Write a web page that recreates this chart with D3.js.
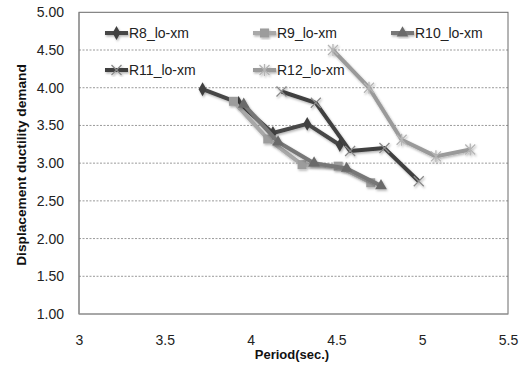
<!DOCTYPE html>
<html><head><meta charset="utf-8">
<script src="https://cdn.jsdelivr.net/npm/d3@7"></script>
<style>body{margin:0;background:#fff;}svg{display:block;}</style>
</head><body>
<script>
const seriesNames = ["R8_lo-xm","R9_lo-xm","R10_lo-xm","R11_lo-xm","R12_lo-xm"];
const r8x = [3.72,3.93,4.13,4.33,4.52];
const r8y = [3.98,3.80,3.40,3.52,3.24];
const r9x = [3.90,4.10,4.30,4.51,4.70];
const r9y = [3.82,3.32,2.98,2.96,2.74];
const r10x = [3.96,4.16,4.37,4.56,4.76];
const r10y = [3.78,3.28,3.00,2.93,2.70];
const r11x = [4.18,4.38,4.58,4.78,4.98];
const r11y = [3.95,3.80,3.16,3.20,2.76];
const r12x = [4.48,4.69,4.88,5.08,5.28];
const r12y = [4.50,4.00,3.31,3.09,3.18];
const xTicks = [3,3.5,4,4.5,5,5.5];
const yTicks = [1,1.5,2,2.5,3,3.5,4,4.5,5];

const W=532,H=365;
const m={l:79,r:508,t:12.3,b:314};
const x=d3.scaleLinear().domain([3,5.5]).range([m.l,m.r]);
const y=d3.scaleLinear().domain([1,5]).range([m.b,m.t]);
const svg=d3.select("body").append("svg").attr("width",W).attr("height",H);
const defs=svg.append("defs");
const f=defs.append("filter").attr("id","sh").attr("x","-20%").attr("y","-20%").attr("width","140%").attr("height","140%");
f.append("feDropShadow").attr("dx",1).attr("dy",1.5).attr("stdDeviation",1.2).attr("flood-color","#000").attr("flood-opacity",0.3);

const font="'Liberation Sans', Arial, sans-serif";
// gridlines
svg.append("g").selectAll("line").data(yTicks.filter(v=>v>1&&v<5)).join("line")
  .attr("x1",m.l).attr("x2",m.r).attr("y1",d=>y(d)).attr("y2",d=>y(d))
  .attr("stroke","#9a9a9a").attr("stroke-width",1).attr("stroke-dasharray","2,1.5");
// border
svg.append("rect").attr("x",m.l).attr("y",m.t).attr("width",m.r-m.l).attr("height",m.b-m.t)
  .attr("fill","none").attr("stroke","#6a6a6a").attr("stroke-width",1);
svg.append("line").attr("x1",m.l).attr("x2",m.l).attr("y1",m.t).attr("y2",m.b).attr("stroke","#8a8a8a");
svg.append("line").attr("x1",m.l).attr("x2",m.r).attr("y1",m.b).attr("y2",m.b).attr("stroke","#9a9a9a");

// axes
const ya=d3.axisLeft(y).tickValues(yTicks).tickFormat(d3.format(".2f")).tickSize(0).tickPadding(15);
const yg=svg.append("g").attr("transform",`translate(${m.l},0)`).call(ya);
yg.select(".domain").remove();
yg.selectAll("text").attr("font-family",font).attr("font-size",14).attr("fill","#222");
const xa=d3.axisBottom(x).tickValues(xTicks).tickFormat(d=>String(d)).tickSize(0).tickPadding(21);
const xg=svg.append("g").attr("transform",`translate(0,${m.b})`).call(xa);
xg.select(".domain").remove();
xg.selectAll("text").attr("font-family",font).attr("font-size",14).attr("fill","#222");

// titles
svg.append("text").attr("transform",`translate(26,165) rotate(-90)`).attr("text-anchor","middle")
  .attr("font-family",font).attr("font-weight","bold").attr("font-size",13.7).attr("fill","#111")
  .text("Displacement ductility demand");
svg.append("text").attr("x",292).attr("y",359).attr("text-anchor","middle")
  .attr("font-family","'Liberation Sans Narrow', 'Liberation Sans', Arial, sans-serif").attr("font-weight","bold").attr("font-size",13).attr("fill","#111")
  .text("Period(sec.)");

const series=[
 {name:seriesNames[0],xs:r8x,ys:r8y,color:"#474747",mcolor:"#404040",mk:"diamond"},
 {name:seriesNames[1],xs:r9x,ys:r9y,color:"#a8a8a8",mcolor:"#9c9c9c",mk:"square"},
 {name:seriesNames[2],xs:r10x,ys:r10y,color:"#777777",mcolor:"#6a6a6a",mk:"triangle"},
 {name:seriesNames[3],xs:r11x,ys:r11y,color:"#404040",mcolor:"#8a8a8a",mk:"x"},
 {name:seriesNames[4],xs:r12x,ys:r12y,color:"#9a9a9a",mcolor:"#b5b5b5",mk:"star"}
];
function marker(g,s,cx,cy){
  const c=s.mcolor;
  if(s.mk==="diamond") g.append("path").attr("d",d3.symbol(d3.symbolDiamond,55)()).attr("transform",`translate(${cx},${cy})`).attr("fill",c);
  else if(s.mk==="square") g.append("rect").attr("x",cx-4.5).attr("y",cy-4.5).attr("width",9).attr("height",9).attr("fill",c);
  else if(s.mk==="triangle") g.append("path").attr("d",d3.symbol(d3.symbolTriangle,60)()).attr("transform",`translate(${cx},${cy})`).attr("fill",c);
  else if(s.mk==="x"){
    g.append("path").attr("d",`M${cx-5},${cy-5}L${cx+5},${cy+5}M${cx-5},${cy+5}L${cx+5},${cy-5}`).attr("stroke",c).attr("stroke-width",1.3).attr("fill","none");
  } else {
    g.append("path").attr("d",`M${cx-5},${cy-5}L${cx+5},${cy+5}M${cx-5},${cy+5}L${cx+5},${cy-5}M${cx},${cy-6}L${cx},${cy+6}`).attr("stroke",c).attr("stroke-width",1.3).attr("fill","none");
  }
}
const line=d3.line().x(d=>x(d[0])).y(d=>y(d[1]));
series.forEach(s=>{
  const pts=s.xs.map((v,i)=>[v,s.ys[i]]);
  const g=svg.append("g").attr("filter","url(#sh)");
  g.append("path").attr("d",line(pts)).attr("fill","none").attr("stroke",s.color).attr("stroke-width",4).attr("stroke-linejoin","round");
  pts.forEach(p=>marker(g,s,x(p[0]),y(p[1])));
});

// legend
const legPos=[[105,33],[253,33],[391,33],[105,70],[253,70]];
series.forEach((s,i)=>{
  const [lx,ly]=legPos[i];
  const g=svg.append("g").attr("filter","url(#sh)");
  g.append("line").attr("x1",lx).attr("x2",lx+23).attr("y1",ly).attr("y2",ly).attr("stroke",s.color).attr("stroke-width",4);
  marker(g,s,lx+11.5,ly);
  svg.append("text").attr("x",lx+24).attr("y",ly+5).attr("font-family",font).attr("font-size",14).attr("fill","#222").text(s.name);
});
</script>
</body></html>
